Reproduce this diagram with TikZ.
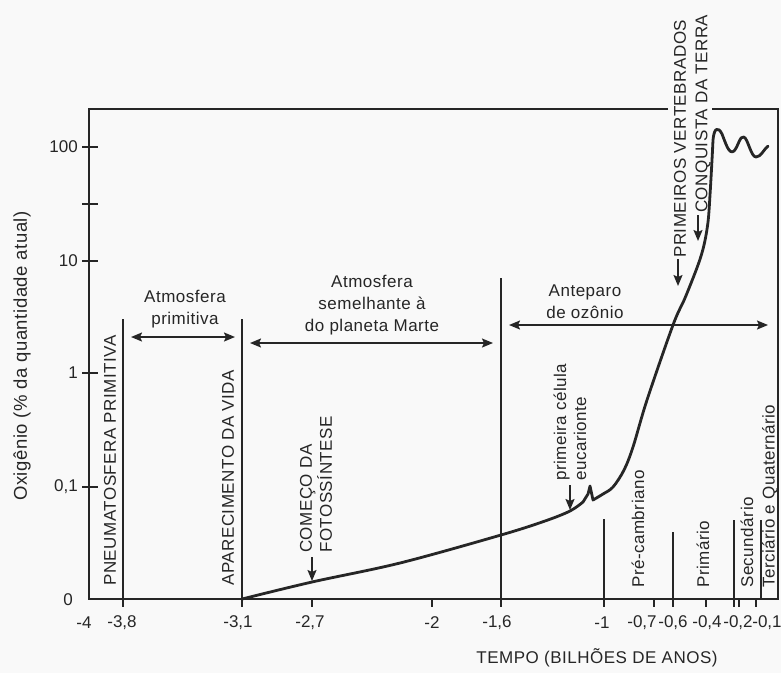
\documentclass[tikz,border=0pt]{standalone}
\usepackage{fontspec}
\setmainfont{Liberation Sans}[LetterSpace=3]
\newfontfamily\numfont{Liberation Sans}
\usetikzlibrary{arrows.meta}
\definecolor{bg}{RGB}{249,249,249}
\definecolor{ink}{RGB}{38,38,38}
\begin{document}
\begin{tikzpicture}[x=1pt,y=-1pt,
  lbl/.style={font=\fontsize{17}{22}\selectfont, text=ink, inner sep=0pt},
  num/.style={font=\numfont\fontsize{17}{22}\selectfont, text=ink, inner sep=0pt},
  vlbl/.style={font=\fontsize{17}{20}\selectfont, text=ink, inner sep=0pt, rotate=90, anchor=west, align=left},
  frame/.style={draw=ink, line width=1.8pt},
  vline/.style={draw=ink, line width=1.6pt},
  tick/.style={draw=ink, line width=1.5pt},
  tip/.tip={Stealth[length=11pt,width=9pt,inset=2pt]},
  span/.style={draw=ink, line width=1.6pt, tip-tip},
  pointer/.style={draw=ink, line width=1.6pt, -tip},
  curve/.style={draw=ink, line width=2.8pt, line join=round, line cap=round}]
\fill[bg] (0,0) rectangle (781,673);
\useasboundingbox (0,0) rectangle (781,673);

% frame (top edge broken by the labels)
\draw[frame] (668,109) -- (89,109) -- (89,599) -- (778,599) -- (778,109) -- (712,109);

% y ticks and labels
\foreach \y/\t/\n in {147/100/ya,204//yb,261/10/yc,373/1/yd,487/{0,1}/ye}{
  \draw[tick] (82,\y) -- (98,\y);
  \node[num, anchor=east] (\n) at (78,\y) {\t};
}
\node[num, anchor=east] (yf) at (73,600) {0};
\node[lbl, rotate=90, font=\fontsize{18.5}{22}\selectfont] (ytitle) at (22,356) {Oxigênio (\% da quantidade atual)};

% x ticks and labels
\foreach \x in {123,242,312,432,501,604,654,673,706,734,739,756}{
  \draw[tick] (\x,599) -- (\x,607);
}
\foreach \x/\t/\n in {84/-4/xa,122/{-3,8}/xb,238/{-3,1}/xc,310/{-2,7}/xd,432/-2/xe,497/{-1,6}/xf,602/-1/xg,642/{-0,7}/xh,673/{-0,6}/xi,707/{-0,4}/xj,738/{-0,2}/xk,767/{-0,1}/xl}{
  \node[num] (\n) at (\x,623) {\t};
}
\node[lbl] (xtitle) at (597,658) {TEMPO (BILHÕES DE ANOS)};

% vertical boundary lines
\draw[vline] (123,319) -- (123,599);
\draw[vline] (242,319) -- (242,599);
\draw[vline] (501,278) -- (501,599);
\draw[vline] (604,519) -- (604,599);
\draw[vline] (673,532) -- (673,599);
\draw[vline] (734,520) -- (734,599);
\draw[vline] (761,520) -- (761,599);

% period arrows and labels
\coordinate (p1) at (131,337); \coordinate (p2) at (235,337);
\draw[span] (p1) -- (p2);
\node[lbl, align=center] (prim) at (185,309) {Atmosfera\\primitiva};
\coordinate (m1) at (250,343); \coordinate (m2) at (493,343);
\draw[span] (m1) -- (m2);
\node[lbl, align=center] (marte) at (372,305) {Atmosfera\\semelhante à\\do planeta Marte};
\coordinate (o1) at (509,325); \coordinate (o2) at (768,325);
\draw[span] (o1) -- (o2);
\node[lbl, align=center] (ozon) at (585,302) {Anteparo\\de ozônio};

% rotated labels
\node[vlbl] (pneu) at (110,586) {PNEUMATOSFERA PRIMITIVA};
\node[vlbl] (apar) at (228,586) {APARECIMENTO DA VIDA};
\node[vlbl] (foto) at (316,553) {COMEÇO DA\\FOTOSSÍNTESE};
\node[vlbl] (euc) at (570,481) {primeira célula\\eucarionte};
\node[vlbl] (prec) at (638,588) {Pré-cambriano};
\node[vlbl] (primario) at (703,588) {Primário};
\node[vlbl] (secund) at (747,588) {Secundário};
\node[vlbl] (terc) at (770,588) {Terciário e Quaternário};
\node[vlbl] (vert) at (680,258) {PRIMEIROS VERTEBRADOS};
\node[vlbl] (conq) at (703,213) {CONQUISTA DA TERRA};

% pointer arrows
\coordinate (fa) at (312,557); \coordinate (fb) at (312,581);
\draw[pointer] (fa) -- (fb);
\coordinate (ea) at (570,485); \coordinate (eb) at (570,510);
\draw[pointer] (ea) -- (eb);
\coordinate (va) at (678,259); \coordinate (vb) at (678,286);
\draw[pointer] (va) -- (vb);
\coordinate (ca) at (698,215); \coordinate (cb) at (698,241);
\draw[pointer] (ca) -- (cb);

% oxygen curve
\draw[curve] plot[smooth,tension=0.55] coordinates {(242,599) (312,582) (400,563) (501,535) (545,521) (570,511) (583,502)}
  -- (588,494) -- (590,486) -- (593,500)
  -- plot[smooth,tension=0.55] coordinates {(593,500) (603,494) (613,487) (624,470) (633,447) (647,400) (673,325) (685,298) (698,265) (704,245) (708,222) (710,195) (712,160) (713,140)}
  .. controls (714,128) and (718,126) .. (722,134)
  .. controls (726,144) and (729,155) .. (734,151)
  .. controls (738,147) and (740,135) .. (744,137)
  .. controls (748,139) and (751,157) .. (756,157)
  .. controls (761,157) and (764,149) .. (768,146);
\end{tikzpicture}
\end{document}
